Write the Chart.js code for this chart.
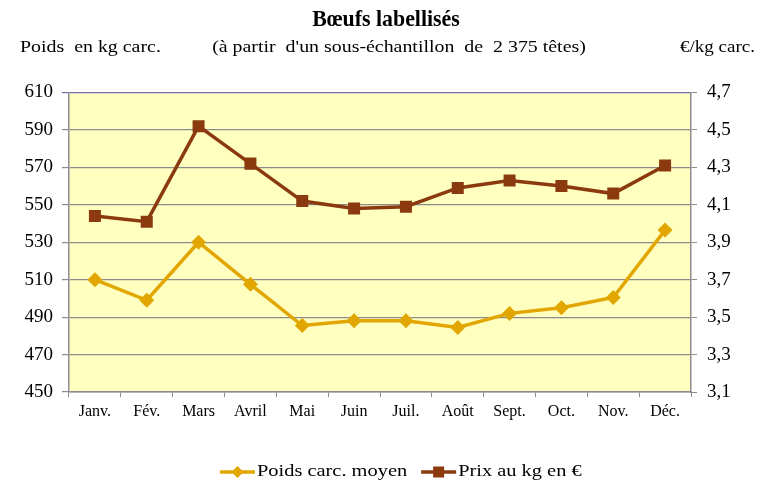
<!DOCTYPE html>
<html>
<head>
<meta charset="utf-8">
<script src="https://cdn.jsdelivr.net/npm/chart.js@4.4.1/dist/chart.umd.min.js"></script>
<style>
  html, body { margin: 0; padding: 0; background: #fff; }
  #wrap { width: 758px; height: 485px; position: relative; }
</style>
</head>
<body>
<div id="wrap"><canvas id="chart" width="758" height="485"></canvas></div>
<script>
const months = ['Janv.', 'Fév.', 'Mars', 'Avril', 'Mai', 'Juin', 'Juil.', 'Août', 'Sept.', 'Oct.', 'Nov.', 'Déc.'];
const poidsMoyen = [510, 499, 530, 507.5, 485.5, 488, 488, 484.5, 492, 495, 500.5, 536.5];
const prixKg = [4.04, 4.01, 4.52, 4.32, 4.12, 4.08, 4.09, 4.19, 4.23, 4.20, 4.16, 4.31];
const leftTicks = [450, 470, 490, 510, 530, 550, 570, 590, 610];
const rightTicks = [3.1, 3.3, 3.5, 3.7, 3.9, 4.1, 4.3, 4.5, 4.7];

const serif = '"Liberation Serif", "Times New Roman", serif';
const yellow = '#e2a600';
const brown = '#8a3a0e';

// texte un peu étiré en largeur, comme le rendu d'origine
function wideText(ctx, txt, x, y, align, sx) {
  ctx.save();
  ctx.translate(x, y);
  ctx.scale(sx, 1);
  ctx.textAlign = align;
  ctx.fillText(txt, 0, 0);
  ctx.restore();
  return ctx.measureText(txt).width * sx;
}

// fond jaune de la zone de tracé + textes d'en-tête + légende
const decor = {
  id: 'decor',
  beforeDraw(chart) {
    const { ctx, chartArea: a } = chart;
    ctx.save();
    ctx.fillStyle = '#ffffc0';
    ctx.fillRect(a.left, a.top, a.right - a.left, a.bottom - a.top);
    ctx.restore();
  },
  afterDraw(chart) {
    const ctx = chart.ctx;
    ctx.save();
    ctx.fillStyle = '#000';
    ctx.textBaseline = 'middle';
    ctx.font = 'bold 23px ' + serif;
    wideText(ctx, 'Bœufs labellisés', 386, 20, 'center', 0.95);
    ctx.font = '17px ' + serif;
    wideText(ctx, "(à partir  d'un sous-échantillon  de  2 375 têtes)", 399, 48, 'center', 1.17);
    wideText(ctx, 'Poids  en kg carc.', 20, 48, 'left', 1.17);
    wideText(ctx, '€/kg carc.', 755, 48, 'right', 1.12);

    // légende
    const items = chart.data.datasets.map(ds => ({ label: ds.label, color: ds.borderColor, style: ds.pointStyle }));
    ctx.font = '17px ' + serif;
    let x = 220;
    const y = 472;
    items.forEach(it => {
      ctx.strokeStyle = it.color;
      ctx.fillStyle = it.color;
      ctx.lineWidth = 3.5;
      ctx.beginPath();
      ctx.moveTo(x, y);
      ctx.lineTo(x + 35, y);
      ctx.stroke();
      const cx = x + 17.5;
      ctx.beginPath();
      if (it.style === 'rectRot') {
        ctx.moveTo(cx, y - 6); ctx.lineTo(cx + 6, y); ctx.lineTo(cx, y + 6); ctx.lineTo(cx - 6, y);
      } else {
        ctx.rect(cx - 5.5, y - 5.5, 11, 11);
      }
      ctx.closePath();
      ctx.fill();
      ctx.fillStyle = '#000';
      const w = wideText(ctx, it.label, x + 37, y, 'left', 1.2);
      x += 37 + w + 14;
    });
    ctx.restore();
  }
};

new Chart(document.getElementById('chart'), {
  type: 'line',
  data: {
    labels: months,
    datasets: [
      {
        label: 'Poids carc. moyen',
        data: poidsMoyen,
        yAxisID: 'y',
        borderColor: yellow,
        backgroundColor: yellow,
        borderWidth: 3.5,
        pointStyle: 'rectRot',
        pointRadius: 7.5,
        pointHoverRadius: 7.5,
        pointBorderWidth: 0,
        tension: 0
      },
      {
        label: 'Prix au kg en €',
        data: prixKg,
        yAxisID: 'y1',
        borderColor: brown,
        backgroundColor: brown,
        borderWidth: 3.5,
        pointStyle: 'rect',
        pointRadius: 8.5,
        pointHoverRadius: 8.5,
        pointBorderWidth: 0,
        tension: 0
      }
    ]
  },
  options: {
    responsive: false,
    animation: false,
    events: [],
    layout: { padding: { top: 92.5, left: 0, right: 0, bottom: 0 } },
    plugins: { legend: { display: false }, tooltip: { enabled: false }, title: { display: false } },
    scales: {
      x: {
        offset: true,
        grid: { display: true, drawOnChartArea: false, color: '#8c8c8c', tickLength: 5, offset: true },
        border: { color: '#8c8c8c', width: 1.5 },
        ticks: { color: '#000', font: { family: serif, size: 16 }, padding: 5, maxRotation: 0 },
        afterFit(s) { s.height = 93; }
      },
      y: {
        position: 'left',
        min: 450, max: 610,
        afterBuildTicks(s) { s.ticks = leftTicks.map(v => ({ value: v })); },
        grid: {
          color: ctx => ctx.tick && ctx.tick.value === 610 ? '#7a6aa8' : '#8c8c8c',
          lineWidth: 1.2,
          tickLength: 7
        },
        border: { color: '#8c8c9c', width: 1.5 },
        ticks: { color: '#000', font: { family: serif, size: 19 }, padding: 9 },
        afterFit(s) { s.width = 69; }
      },
      y1: {
        position: 'right',
        min: 3.1, max: 4.7,
        afterBuildTicks(s) { s.ticks = rightTicks.map(v => ({ value: v })); },
        grid: { drawOnChartArea: false, color: '#8c8c8c', tickLength: 6 },
        border: { color: '#8c8c8c', width: 1.5 },
        ticks: {
          color: '#000', font: { family: serif, size: 19 }, padding: 10,
          callback: v => v.toFixed(1).replace('.', ',')
        },
        afterFit(s) { s.width = 67; }
      }
    }
  },
  plugins: [decor]
});
</script>
</body>
</html>
